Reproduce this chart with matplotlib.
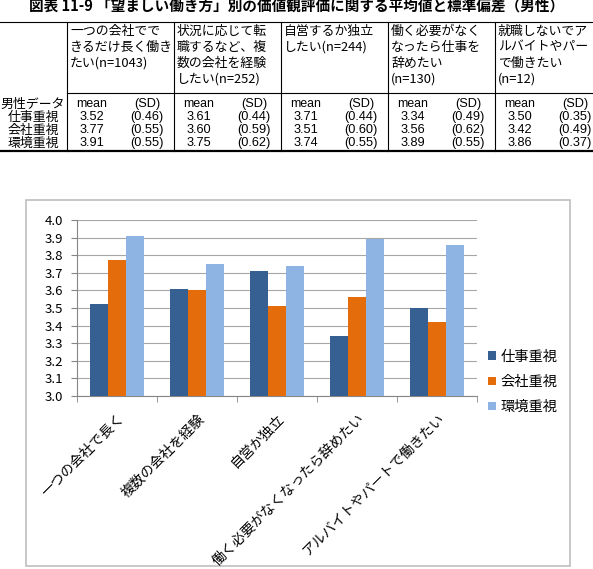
import matplotlib
matplotlib.use('Agg')
import matplotlib.pyplot as plt
from matplotlib.patches import Rectangle, Patch
import numpy as np

plt.rcParams['font.family'] = ['Noto Sans CJK JP', 'DejaVu Sans']

title = '図表 11-9 「望ましい働き方」別の価値観評価に関する平均値と標準偏差（男性）'

col_headers = [
    ['一つの会社でで', 'きるだけ長く働き', 'たい(n=1043)'],
    ['状況に応じて転', '職するなど、複', '数の会社を経験', 'したい(n=252)'],
    ['自営するか独立', 'したい(n=244)'],
    ['働く必要がなく', 'なったら仕事を', '辞めたい', '(n=130)'],
    ['就職しないでア', 'ルバイトやパー', 'で働きたい', '(n=12)'],
]
categories = ['一つの会社で長く', '複数の会社を経験', '自営か独立',
              '働く必要がなくなったら辞めたい', 'アルバイトやパートで働きたい']
series = ['仕事重視', '会社重視', '環境重視']

mean_work = [3.52, 3.61, 3.71, 3.34, 3.50]
mean_company = [3.77, 3.60, 3.51, 3.56, 3.42]
mean_env = [3.91, 3.75, 3.74, 3.89, 3.86]
sd_work = [0.46, 0.44, 0.44, 0.49, 0.35]
sd_company = [0.55, 0.59, 0.60, 0.62, 0.49]
sd_env = [0.55, 0.62, 0.55, 0.55, 0.37]

means = [mean_work, mean_company, mean_env]
sds = [sd_work, sd_company, sd_env]
colors = ['#376092', '#E46C0A', '#8EB4E3']

W, H = 593, 569
fig = plt.figure(figsize=(W / 100, H / 100), dpi=100, facecolor='white')

# background layer in pixel coords: title, table, chart frame
bg = fig.add_axes([0, 0, 1, 1])
bg.set_xlim(0, W)
bg.set_ylim(H, 0)
bg.axis('off')

bg.text(297, 7, title, ha='center', va='center', fontsize=10.5, fontweight='bold')

fs = 9.3
num_font = 'Liberation Sans'
col_left = [67, 174, 281, 388, 495]
top_y, head_line_y, bottom_y = 22, 93, 151
line_ys = [31, 47, 63, 79]
row_ys = [117, 130, 143]

bg.plot([0, W], [top_y, top_y], color='black', lw=0.8)
bg.plot([col_left[0], W], [head_line_y, head_line_y], color='black', lw=0.8)
bg.plot([0, W], [bottom_y, bottom_y], color='black', lw=1.6)
for x in col_left:
    bg.plot([x, x], [top_y, bottom_y], color='black', lw=0.8)

for left, lines in zip(col_left, col_headers):
    for y, s in zip(line_ys, lines):
        bg.text(left + 3, y, s, ha='left', va='center', fontsize=fs)
    bg.text(left + 25, 104, 'mean', ha='center', va='center', fontsize=8.8, family=num_font)
    bg.text(left + 80, 104, '(SD)', ha='center', va='center', fontsize=9.2, family=num_font)

bg.text(65, 104, '男性データ', ha='right', va='center', fontsize=fs)
for y, name, m, s in zip(row_ys, series, means, sds):
    bg.text(33, y, name, ha='center', va='center', fontsize=fs)
    for left, mv, sv in zip(col_left, m, s):
        bg.text(left + 25, y, f'{mv:.2f}', ha='center', va='center', fontsize=9.2, family=num_font)
        bg.text(left + 80, y, f'({sv:.2f})', ha='center', va='center', fontsize=9.2, family=num_font)

bg.add_patch(Rectangle((26, 200), 544, 366, fill=False, edgecolor='#BFBFBF', lw=1.2))

# bar chart
ax = fig.add_axes([77 / W, 1 - 396 / H, 400 / W, 176 / H])
x = np.arange(len(categories))
bw = 0.222
for i, (vals, c, name) in enumerate(zip(means, colors, series)):
    ax.bar(x + (i - 1) * bw, vals, width=bw, color=c, label=name, zorder=3)

ax.set_ylim(3.0, 4.0)
ax.set_xlim(-0.5, len(categories) - 0.5)
ax.set_yticks(np.arange(3.0, 4.01, 0.1))
ax.set_yticklabels([f'{v:.1f}' for v in np.arange(3.0, 4.01, 0.1)], fontsize=9.5)
ax.yaxis.grid(True, color='#A6A6A6', lw=0.8, zorder=0)
ax.set_axisbelow(True)

ax.set_xticks(x)
ax.set_xticklabels(categories, rotation=45, ha='right', va='top',
                   rotation_mode='anchor', fontsize=10)
ax.set_xticks(np.arange(-0.5, len(categories), 1.0), minor=True)
ax.tick_params(axis='x', which='major', length=0, pad=11)
ax.tick_params(axis='x', which='minor', length=4, color='#868686')
ax.tick_params(axis='y', length=4, color='#868686', pad=6)

for side in ['top', 'right']:
    ax.spines[side].set_visible(False)
for side in ['left', 'bottom']:
    ax.spines[side].set_color('#868686')
    ax.spines[side].set_linewidth(0.8)

handles = [Patch(facecolor=c, edgecolor='none') for c in colors]
fig.legend(handles, series, loc='center left', bbox_to_anchor=(488 / W, 1 - 382 / H),
           frameon=False, fontsize=10.3, handlelength=0.55, handleheight=0.55,
           handletextpad=0.35, labelspacing=0.78, borderpad=0, borderaxespad=0)

fig.savefig('out.png', dpi=100, facecolor='white')
